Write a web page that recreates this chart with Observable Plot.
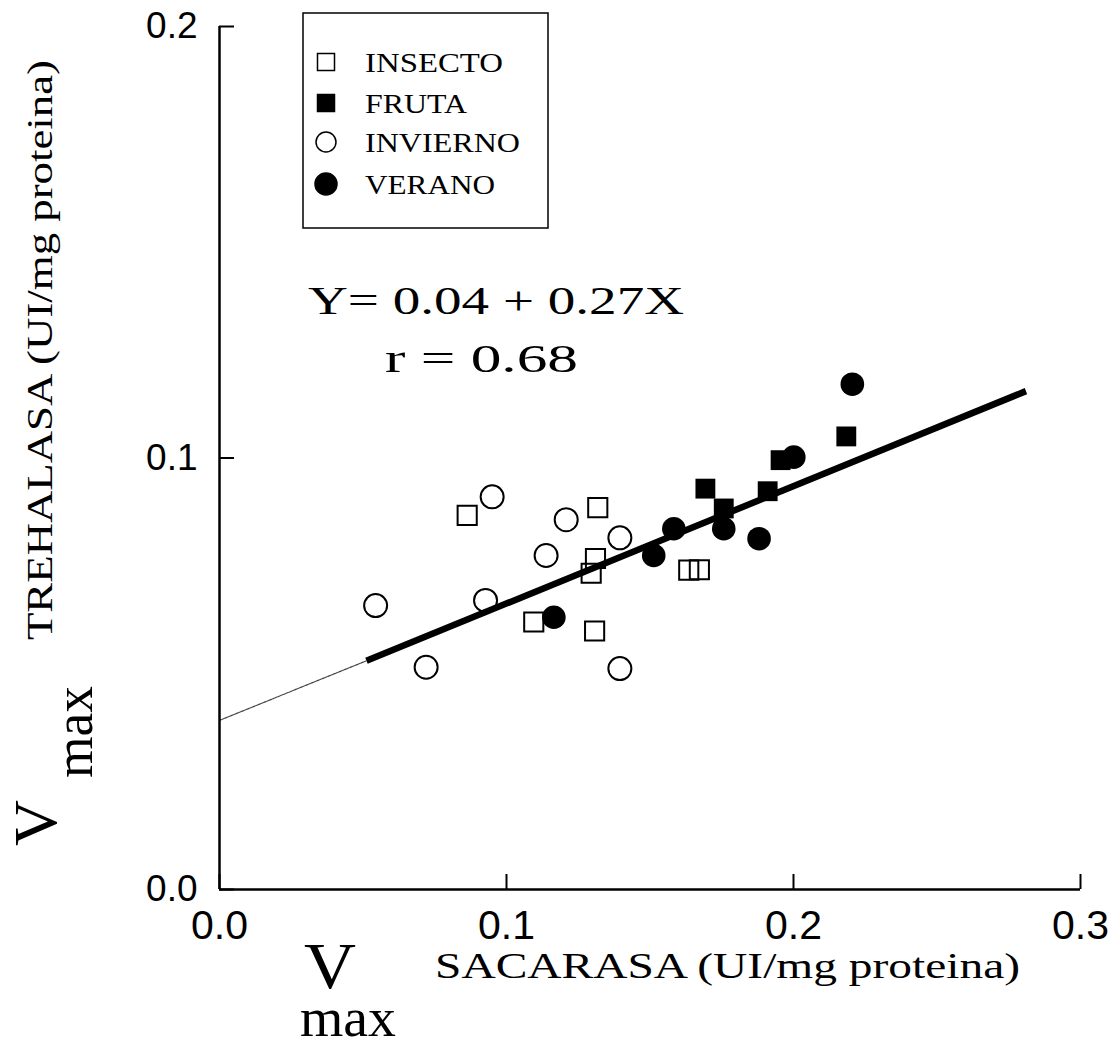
<!DOCTYPE html>
<html><head><meta charset="utf-8">
<script src="https://cdn.jsdelivr.net/npm/d3@7"></script>
<script src="https://cdn.jsdelivr.net/npm/@observablehq/plot@0.6"></script>
<style>
html,body{margin:0;padding:0;background:#fff;}
#chart{width:1109px;height:1049px;}
</style></head><body><div id="chart"></div>
<script>
// ---- data ----
const groups = ["INSECTO", "FRUTA", "INVIERNO", "VERANO"];
const insectoX = [0.0863, 0.1318, 0.1310, 0.1295, 0.1095, 0.1307, 0.1635, 0.1672];
const insectoY = [0.0867, 0.0885, 0.0767, 0.0733, 0.0620, 0.0599, 0.0740, 0.0741];
const frutaX = [0.1693, 0.1757, 0.1910, 0.1955, 0.2184];
const frutaY = [0.0929, 0.0883, 0.0923, 0.0995, 0.1050];
const inviernoX = [0.0950, 0.1208, 0.1395, 0.1138, 0.0927, 0.0544, 0.0720, 0.1395];
const inviernoY = [0.0910, 0.0857, 0.0815, 0.0774, 0.0670, 0.0658, 0.0515, 0.0512];
const veranoX = [0.2205, 0.2001, 0.1583, 0.1513, 0.1880, 0.1165, 0.1757];
const veranoY = [0.1171, 0.1002, 0.0836, 0.0774, 0.0813, 0.0631, 0.0836];
const fitThinX = [0, 0.0512];
const fitThinY = [0.0392, 0.0530];
const fitThickX = [0.0512, 0.281];
const fitThickY = [0.0530, 0.1155];
const xTicks = [0, 0.1, 0.2, 0.3];
const yTicks = [0, 0.1, 0.2];
const equationText = "Y= 0.04 + 0.27X";
const rText = "r = 0.68";

// ---- build ----
const toPts = (xs, ys) => xs.map((x, i) => ({x, y: ys[i]}));
const insecto = toPts(insectoX, insectoY);
const fruta = toPts(frutaX, frutaY);
const invierno = toPts(inviernoX, inviernoY);
const verano = toPts(veranoX, veranoY);
const thin = toPts(fitThinX, fitThinY);
const thick = toPts(fitThickX, fitThickY);
const fmt = d3.format(".1f");
const SANS = "'Liberation Sans', Arial, sans-serif";
const SERIF = "'Liberation Serif', 'DejaVu Serif', serif";

const W = 1109, H = 1049;
const plot = Plot.plot({
  width: W, height: H,
  marginLeft: 219, marginRight: 29, marginTop: 26, marginBottom: 160,
  x: {domain: [0, 0.3], label: null},
  y: {domain: [0, 0.2], label: null},
  style: {background: "#fff", color: "#000", fontFamily: SANS, overflow: "visible"},
  marks: [
    Plot.line(thin, {x: "x", y: "y", stroke: "#444", strokeWidth: 1.2, strokeDasharray: "2,1"}),
    Plot.dot(insecto, {x: "x", y: "y", symbol: "square", r: 10.8, stroke: "#000", strokeWidth: 2, fill: "none"}),
    Plot.dot(invierno, {x: "x", y: "y", symbol: "circle", r: 11.5, stroke: "#000", strokeWidth: 2, fill: "none"}),
    Plot.dot(fruta, {x: "x", y: "y", symbol: "square", r: 11.2, fill: "#000", stroke: "none"}),
    Plot.dot(verano, {x: "x", y: "y", symbol: "circle", r: 11.8, fill: "#000", stroke: "none"}),
    Plot.line(thick, {x: "x", y: "y", stroke: "#000", strokeWidth: 6.5, strokeLinecap: "butt"}),
    Plot.ruleY([0], {stroke: "#000", strokeWidth: 2.5}),
    Plot.ruleX([0], {stroke: "#000", strokeWidth: 2.5}),
    Plot.axisX({ticks: xTicks, tickSize: -15, tickFormat: () => "", strokeWidth: 2}),
    Plot.axisY({ticks: yTicks, tickSize: -15, tickFormat: () => "", strokeWidth: 2}),
    Plot.axisX({ticks: xTicks, tickSize: 0, tickPadding: 20, tickFormat: fmt, fontSize: 41, fontFamily: SANS}),
    Plot.axisY({ticks: yTicks, tickSize: 0, tickPadding: 22, tickFormat: fmt, fontSize: 37, fontFamily: SANS})
  ]
});
document.getElementById("chart").appendChild(plot);

const svg = d3.select(plot);
function txt(g, s, x, y, size, len, rot) {
  const t = g.append("text").text(s).attr("font-family", SERIF).attr("font-size", size)
    .attr("fill", "#000").attr("text-anchor", "start");
  if (rot) t.attr("transform", `translate(${x},${y}) rotate(-90)`);
  else t.attr("x", x).attr("y", y);
  if (len) t.attr("textLength", len).attr("lengthAdjust", "spacingAndGlyphs");
  return t;
}
const ann = svg.append("g");
// equation
txt(ann, equationText, 308, 314, 40, 376);
txt(ann, rText, 385, 372, 40, 193);
// x title
txt(ann, "V", 304, 988, 66, 52);
txt(ann, "max", 300, 1036, 54, 96);
txt(ann, "SACARASA (UI/mg proteina)", 435, 978, 36, 585);
// y title
txt(ann, "V", 56, 846, 62, 46, true);
txt(ann, "max", 92, 778, 54, 92, true);
txt(ann, "TREHALASA (UI/mg proteina)", 52, 640, 36, 580, true);

// legend
const lg = svg.append("g");
lg.append("rect").attr("x", 303).attr("y", 13).attr("width", 245).attr("height", 215)
  .attr("fill", "#fff").attr("stroke", "#000").attr("stroke-width", 1.5);
const legendRows = [
  {name: groups[0], shape: "square", filled: false, y: 62, len: 138},
  {name: groups[1], shape: "square", filled: true, y: 103, len: 102},
  {name: groups[2], shape: "circle", filled: false, y: 142, len: 155},
  {name: groups[3], shape: "circle", filled: true, y: 184, len: 130}
];
legendRows.forEach(r => {
  if (r.shape === "square") {
    lg.append("rect").attr("x", 326 - 8.5).attr("y", r.y - 8.5).attr("width", 17).attr("height", 17)
      .attr("fill", r.filled ? "#000" : "none").attr("stroke", "#000").attr("stroke-width", 1.5);
  } else {
    lg.append("circle").attr("cx", 326).attr("cy", r.y).attr("r", r.filled ? 11 : 10)
      .attr("fill", r.filled ? "#000" : "none").attr("stroke", "#000").attr("stroke-width", 1.5);
  }
  txt(lg, r.name, 365, r.y + 10, 27, r.len);
});
</script>
</body></html>
